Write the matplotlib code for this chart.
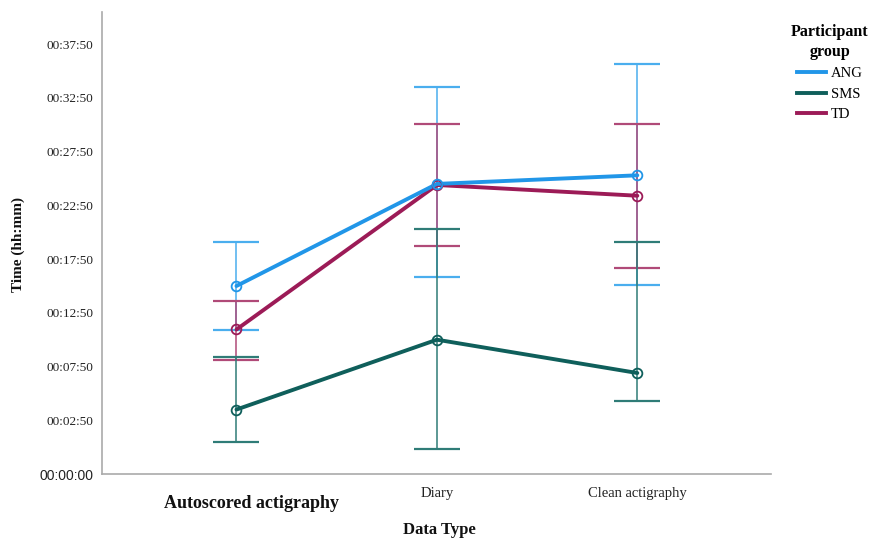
import numpy as np
import matplotlib
matplotlib.use("Agg")
import matplotlib.pyplot as plt
from matplotlib.lines import Line2D

plt.rcParams['font.family'] = ['Liberation Serif', 'DejaVu Serif']

categories = ["Autoscored actigraphy", "Diary", "Clean actigraphy"]
groups = ["ANG", "SMS", "TD"]

# means and error-bar limits (minutes)
ang_mean = [17.5, 27.0, 27.8]
ang_low = [13.4, 18.35, 17.55]
ang_high = [21.6, 36.0, 38.2]

sms_mean = [6.0, 12.5, 9.4]
sms_low = [3.0, 2.35, 6.8]
sms_high = [10.9, 22.8, 21.6]

td_mean = [13.45, 26.9, 25.9]
td_low = [10.6, 21.2, 19.2]
td_high = [16.1, 32.6, 32.6]

ytick_vals = [0, 5, 10, 15, 20, 25, 30, 35, 40]
ytick_labels = ["00:00:00", "00:02:50", "00:07:50", "00:12:50", "00:17:50",
                "00:22:50", "00:27:50", "00:32:50", "00:37:50"]

colors = {"ANG": "#2196e8", "SMS": "#0f5f5b", "TD": "#9c1b57"}
bar_colors = {"ANG": "#4aaeee", "SMS": "#2f7c77", "TD": "#b04a78"}

series = {
    "ANG": (ang_mean, ang_low, ang_high),
    "SMS": (sms_mean, sms_low, sms_high),
    "TD": (td_mean, td_low, td_high),
}

fig = plt.figure(figsize=(8.7, 5.42), dpi=100)
ax = fig.add_axes([102 / 870, (542 - 474) / 542, (771 - 102) / 870, (474 - 12) / 542])

x = np.arange(len(categories))
for g in ["ANG", "TD", "SMS"]:
    m, lo, hi = series[g]
    m, lo, hi = np.array(m), np.array(lo), np.array(hi)
    ax.errorbar(x, m, yerr=[m - lo, hi - m], fmt='none', ecolor=bar_colors[g],
                elinewidth=1.1, capsize=16.5, capthick=1.6, zorder=2)
for g in ["SMS", "TD", "ANG"]:
    m = series[g][0]
    ax.plot(x, m, '-', color=colors[g], lw=2.8, solid_capstyle='round', zorder=3)
    ax.plot(x, m, 'o', mfc='none', mec=colors[g], ms=7, mew=1.3, zorder=4)

ax.set_xlim(-0.671, 2.667)
ax.set_yticks(ytick_vals)
ax.set_yticklabels(ytick_labels)
ax.set_ylim(0, 43)
ax.tick_params(axis='y', length=0, pad=6, labelsize=9.5, labelcolor='#222222')
for lab in ax.get_yticklabels():
    if lab.get_text() == "00:00:00":
        lab.set_fontfamily('Liberation Sans')
        lab.set_fontsize(10)
ax.set_xticks([])

for side in ['top', 'right']:
    ax.spines[side].set_visible(False)
for side in ['left', 'bottom']:
    ax.spines[side].set_color('#aaaaaa')
    ax.spines[side].set_linewidth(1.2)

# category labels (placed like the original, first one bold and larger)
fig.text(251.5 / 870, 1 - 503 / 542, categories[0], ha='center', va='center',
         fontsize=13, fontweight='bold', color='#111111')
fig.text(437.5 / 870, 1 - 494 / 542, categories[1], ha='center', va='center',
         fontsize=10.5, color='#222222')
fig.text(637 / 870, 1 - 494 / 542, categories[2], ha='center', va='center',
         fontsize=10.5, color='#222222')

fig.text(439 / 870, 1 - 530 / 542, "Data Type", ha='center', va='center',
         fontsize=12, fontweight='bold', color='#111111')
fig.text(18 / 870, 1 - 245 / 542, "Time (hh:mm)", ha='center', va='center',
         rotation=90, fontsize=11, fontweight='bold', color='#111111')

handles = [Line2D([0], [0], color=colors[g], lw=2.8) for g in groups]
leg = fig.legend(handles, groups, loc='upper left', bbox_to_anchor=(778 / 870, 1 - 11 / 542),
                 title="Participant\ngroup", frameon=False, fontsize=10.5,
                 handlelength=2.0, handletextpad=0.3, labelspacing=0.5)
leg.get_title().set_fontweight('bold')
leg.get_title().set_fontsize(11.5)
leg.get_title().set_multialignment('center')
leg.get_title().set_linespacing(1.3)

fig.savefig("out.png", dpi=100)
